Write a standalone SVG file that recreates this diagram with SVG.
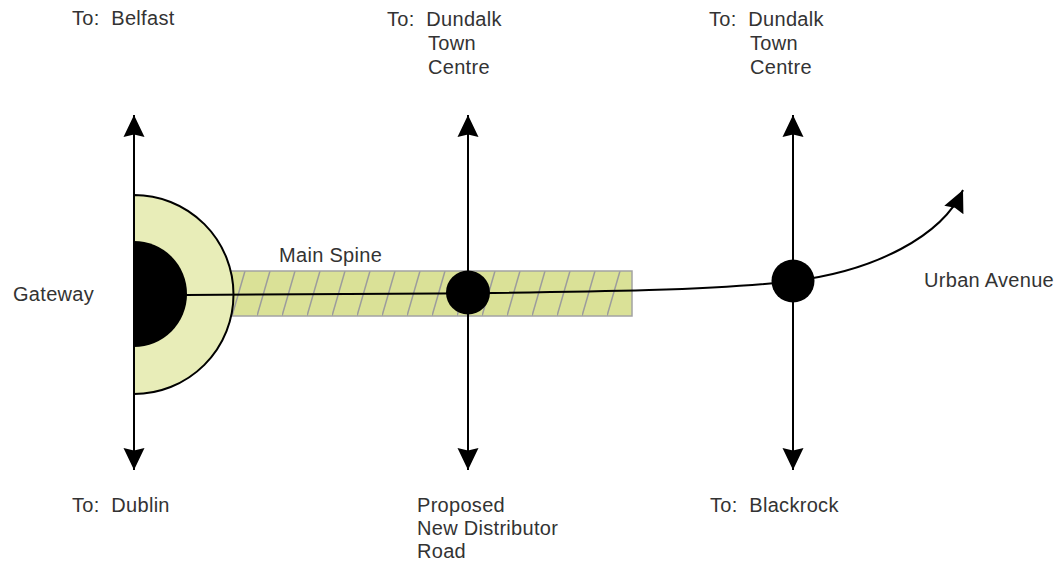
<svg xmlns="http://www.w3.org/2000/svg" width="1059" height="563" viewBox="0 0 1059 563">
  <style>
    .lbl { font-family: "Liberation Sans", Arial, sans-serif; font-size: 20px; fill: #333333; letter-spacing: 0.3px; white-space: pre; }
    .road { fill: none; stroke: #000; stroke-width: 2; }
    .node { fill: #000; }
  </style>
  <defs>
    <marker id="arrow" markerUnits="userSpaceOnUse" markerWidth="24" markerHeight="24" viewBox="0 0 24 24" refX="22" refY="12" orient="auto-start-reverse">
      <path d="M0,1.5 L22,12 L0,22.5 L2.5,12 Z" fill="#000"/>
    </marker>
    <pattern id="hatch" patternUnits="userSpaceOnUse" x="232" y="271" width="25" height="45">
      <line x1="0" y1="45" x2="13" y2="0" stroke="#9c9c9c" stroke-width="1.5"/>
    </pattern>
  </defs>

  <g id="main-spine">
    <rect x="230" y="271" width="402" height="45" fill="#dae197"/>
    <rect x="230" y="271" width="402" height="45" fill="url(#hatch)" stroke="#a3a3a3" stroke-width="1.5"/>
  </g>

  <g id="gateway">
    <path d="M134,195 A99.5,99.5 0 0 1 134,394 Z" fill="#e8edb8" stroke="#000" stroke-width="2"/>
    <path d="M134,241 A53,53 0 0 1 134,347 Z" fill="#000"/>
  </g>

  <g id="connectors">
    <path class="road" d="M134,470 L134,115" marker-start="url(#arrow)" marker-end="url(#arrow)"/>
    <path class="road" d="M468,470 L468,115" marker-start="url(#arrow)" marker-end="url(#arrow)"/>
    <path class="road" d="M793,470 L793,115" marker-start="url(#arrow)" marker-end="url(#arrow)"/>
    <path class="road" d="M186,295 L440,293.5 C600,292 720,290 793,281 C875,271 942,236 963,190" marker-end="url(#arrow)"/>
  </g>

  <g id="junction-1">
    <circle class="node" cx="468" cy="292.5" r="22"/>
  </g>
  <g id="junction-2">
    <circle class="node" cx="793" cy="281" r="21.5"/>
  </g>

  <g id="labels">
    <text class="lbl" x="72" y="25" xml:space="preserve">To:  Belfast</text>
    <text class="lbl" x="387" y="26" xml:space="preserve">To:  Dundalk</text>
    <text class="lbl" x="428" y="50">Town</text>
    <text class="lbl" x="428" y="74">Centre</text>
    <text class="lbl" x="709" y="26" xml:space="preserve">To:  Dundalk</text>
    <text class="lbl" x="750" y="50">Town</text>
    <text class="lbl" x="750" y="74">Centre</text>
    <text class="lbl" x="13" y="301">Gateway</text>
    <text class="lbl" x="279" y="262">Main Spine</text>
    <text class="lbl" x="924" y="287">Urban Avenue</text>
    <text class="lbl" x="72" y="512" xml:space="preserve">To:  Dublin</text>
    <text class="lbl" x="417" y="512">Proposed</text>
    <text class="lbl" x="417" y="535">New Distributor</text>
    <text class="lbl" x="417" y="558">Road</text>
    <text class="lbl" x="710" y="512" xml:space="preserve">To:  Blackrock</text>
  </g>
</svg>
